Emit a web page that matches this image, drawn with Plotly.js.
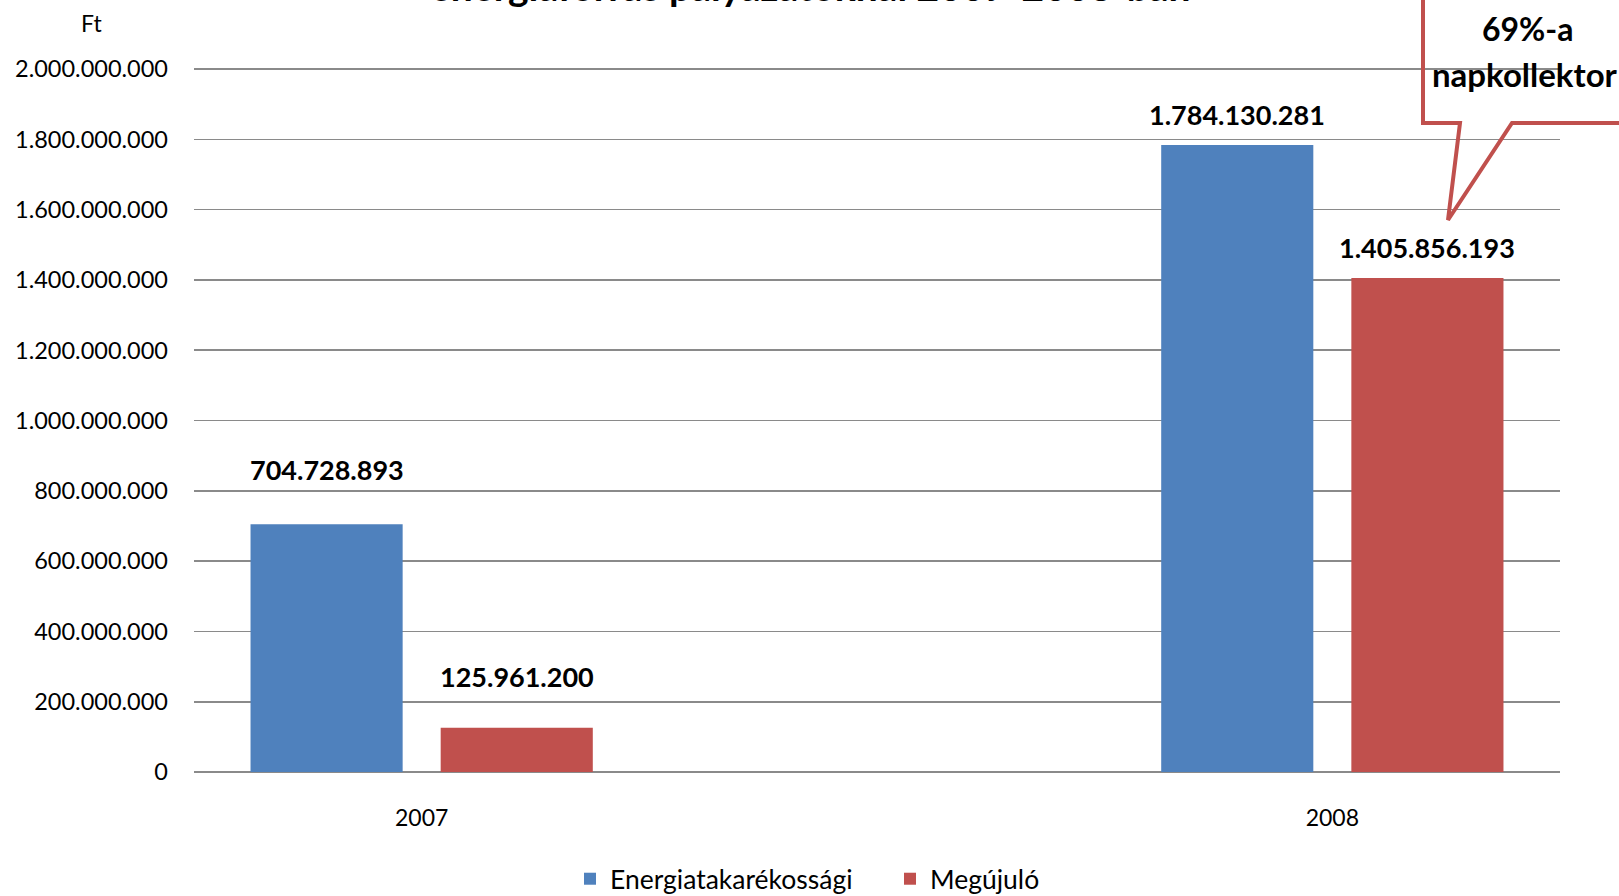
<!DOCTYPE html>
<html>
<head>
<meta charset="utf-8">
<script src="https://cdn.plot.ly/plotly-3.0.1.min.js"></script>
<style>
  html, body { margin: 0; padding: 0; background: #ffffff; }
  #chart { width: 1619px; height: 896px; }
</style>
</head>
<body>
<div id="chart"></div>
<script>
// ---- data ----
const years = ['2007', '2008'];
const energiatakarekossagi = [704728893, 1784130281];
const megujulo = [125961200, 1405856193];
const seriesNames = ['Energiatakarékossági', 'Megújuló'];
const titleText = 'energiaforrás pályázatoknál 2007-2008-ban';
const unitLabel = 'Ft';
const calloutLines = ['69%-a', 'napkollektor'];

// ---- styling / placement constants ----
const FONT = 'Lato, "Open Sans", sans-serif';
const BLUE = '#4F81BD';
const RED = '#C0504D';
const GRID = '#8a8a8a';
const labelShift = [[55, 30], [51, 30]]; // [series][year] px above bar top
const BARGAP = 0.5824, GROUPGAP = 0.2;
const slot = (1 - BARGAP) / 2;
const YMAX = 2006000000;

function fmt(v) {
  return String(v).replace(/\B(?=(\d{3})+(?!\d))/g, '.');
}

const traces = [
  { type: 'bar', name: seriesNames[0], x: years, y: energiatakarekossagi,
    marker: { color: BLUE }, hoverinfo: 'none' },
  { type: 'bar', name: seriesNames[1], x: years, y: megujulo,
    marker: { color: RED }, hoverinfo: 'none' }
];

const annotations = [];
[energiatakarekossagi, megujulo].forEach((arr, s) => {
  arr.forEach((v, i) => {
    annotations.push({
      x: i + (s === 0 ? -slot / 2 : slot / 2), y: v, xref: 'x', yref: 'y',
      yshift: labelShift[s][i],
      text: fmt(v), showarrow: false, xanchor: 'center', yanchor: 'middle',
      font: { family: FONT, size: 27, color: '#000', weight: 'bold' }
    });
  });
});

// plot area in px: left 194, right 1560, top 67, bottom 772
const L = 194, W = 1366, B = 772, H = 705;
const px = x => (x - L) / W;
const py = y => (B - y) / H;

annotations.push({
  xref: 'paper', yref: 'paper', x: px(92), y: py(23),
  text: unitLabel, showarrow: false, xanchor: 'center', yanchor: 'middle',
  font: { family: FONT, size: 23, color: '#000' }
});
annotations.push({
  xref: 'paper', yref: 'paper', x: px(810), y: py(11),
  text: titleText, showarrow: false, xanchor: 'center', yanchor: 'bottom',
  font: { family: FONT, size: 39, color: '#000', weight: 'bold' }
});
annotations.push({
  xref: 'paper', yref: 'paper', x: px(1528), y: py(28),
  text: calloutLines[0], showarrow: false, xanchor: 'center', yanchor: 'middle',
  font: { family: FONT, size: 32, color: '#000', weight: 'bold' }
});
annotations.push({
  xref: 'paper', yref: 'paper', x: px(1430), y: py(74),
  text: calloutLines[1], showarrow: false, xanchor: 'left', yanchor: 'middle',
  font: { family: FONT, size: 33, color: '#000', weight: 'bold' }
});

const calloutPath = 'M ' + px(1423) + ',' + py(-10) +
  ' L ' + px(1423) + ',' + py(123) +
  ' L ' + px(1460) + ',' + py(123) +
  ' L ' + px(1448) + ',' + py(220) +
  ' L ' + px(1512) + ',' + py(123) +
  ' L ' + px(1640) + ',' + py(123);

const layout = {
  width: 1619, height: 896,
  margin: { l: L, r: 1619 - L - W, t: B - H, b: 896 - B, pad: 0, autoexpand: false },
  paper_bgcolor: '#ffffff', plot_bgcolor: '#ffffff',
  separators: ',.',
  font: { family: FONT, color: '#000' },
  barmode: 'group',
  bargap: BARGAP,
  bargroupgap: GROUPGAP,
  showlegend: true,
  legend: {
    orientation: 'h', xref: 'paper', yref: 'paper',
    x: px(570), y: py(879), xanchor: 'left', yanchor: 'middle',
    font: { family: FONT, size: 26.5, color: '#000' },
    entrywidth: 275, entrywidthmode: 'pixels',
    bgcolor: 'rgba(0,0,0,0)'
  },
  xaxis: {
    type: 'category', range: [-0.25, 1.25], fixedrange: true,
    showgrid: false, showline: false, zeroline: false,
    ticks: '', ticklabelstandoff: 30,
    tickfont: { family: FONT, size: 23, color: '#000' }
  },
  yaxis: {
    range: [0, YMAX], dtick: 200000000, tick0: 0,
    tickformat: ',d', fixedrange: true,
    showgrid: true, gridcolor: GRID, gridwidth: 1.6,
    zeroline: true, zerolinecolor: GRID, zerolinewidth: 1.6,
    showline: false, ticks: '', ticklabelstandoff: 25,
    tickfont: { family: FONT, size: 23.5, color: '#000' }
  },
  annotations: annotations,
  shapes: [{
    type: 'path', xref: 'paper', yref: 'paper', path: calloutPath,
    line: { color: RED, width: 4 }, fillcolor: 'rgba(0,0,0,0)', layer: 'above'
  }]
};

Plotly.newPlot('chart', traces, layout, { displayModeBar: false, staticPlot: true });
</script>
</body>
</html>
